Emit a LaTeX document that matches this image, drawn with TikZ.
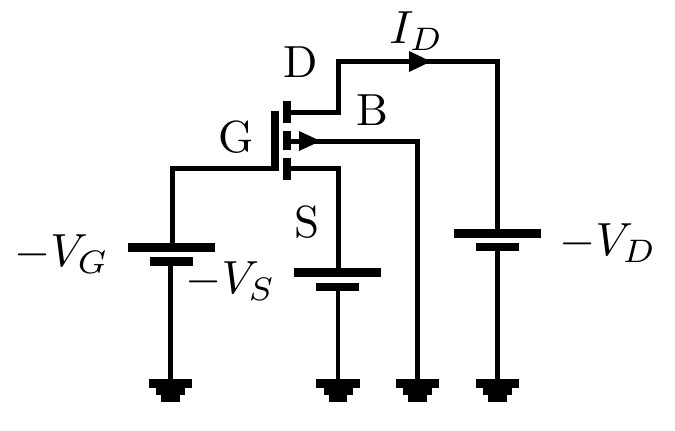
\documentclass[tikz,border=0pt]{standalone}
\usetikzlibrary{calc}
\tikzset{
  wire/.style={line width=5pt,line cap=butt,line join=miter},
  thin wire/.style={line width=4.2pt},
  bar/.style={fill=black,draw=none,rectangle,inner sep=0pt,outer sep=0pt},
  longplate/.style={bar,minimum width=87pt,minimum height=9pt},
  shortplate/.style={bar,minimum width=43pt,minimum height=8.5pt},
  channel/.style={bar,minimum width=8pt},
  tip/.style={fill=black,draw=none},
  lbl/.style={inner sep=0pt,outer sep=0pt,scale=4.5,anchor=center},
  mlbl/.style={inner sep=0pt,outer sep=0pt,scale=4.65,anchor=center},
  gnda/.style={bar,minimum width=43.5pt,minimum height=9pt},
  gndb/.style={bar,minimum width=29pt,minimum height=7pt},
  gndc/.style={bar,minimum width=18.5pt,minimum height=8pt}
}
\newcommand{\gndsym}[2]{%
  \node[gnda] (#1) at (#2,383.5) {};
  \node[gndb] (#1b) at (#2,391) {};
  \node[gndc] (#1c) at (#2,398) {};
}
\begin{document}
\begin{tikzpicture}[x=1pt,y=-1pt]
\useasboundingbox (0,0) rectangle (675,431);
% MOSFET
\node[bar,minimum width=8pt,minimum height=59pt] (gate) at (275,140.5) {};
\node[channel,minimum height=21.5pt] (drain) at (287.2,112) {};
\node[channel,minimum height=19.5pt] (body) at (287.2,140.7) {};
\node[channel,minimum height=22pt] (source) at (287.2,169) {};
% batteries
\node[longplate] (gl) at (171.5,247.5) {};
\node[shortplate] (gs) at (171.5,261.5) {};
\node[longplate] (sl) at (337.7,272.5) {};
\node[shortplate] (ss) at (337.7,287) {};
\node[longplate] (dl) at (497.5,233.5) {};
\node[shortplate] (ds) at (497.5,247) {};
% grounds
\gndsym{g1}{170.4}
\gndsym{g2}{338}
\gndsym{g3}{417.7}
\gndsym{g4}{497.4}
% corners
\coordinate (c1) at (172,168.5);
\coordinate (c2) at (338,112.8);
\coordinate (c3) at (338,61.5);
\coordinate (c4) at (497.5,61.5);
\coordinate (c5) at (338,168.5);
\coordinate (c6) at (417.7,141);
% wires
\draw[wire] (gate.east |- c1) -- (c1) -- (c1 |- gl.north);
\draw[wire] (drain.east |- c2) -- (c2) -- (c3) -- (c4) -- (dl.north -| c4);
\draw[wire] (source.east |- c5) -- (c5) -- (c5 |- sl.north);
\draw[wire] (body.east |- c6) -- (c6) -- (g3.north);
\draw[thin wire] (gs.south -| g1) -- (g1.north);
\draw[thin wire] (ss.south -| g2) -- (g2.north);
\draw[thin wire] (ds.south -| g4) -- (g4.north);
% arrow tips
\fill[tip] (299,131) -- (320.5,141) -- (299,151) -- cycle;
\fill[tip] (409,51) -- (431,61.5) -- (409,72) -- cycle;
% labels
\node[lbl] (lD) at (301,62) {D};
\node[lbl] (lG) at (236.5,137) {G};
\node[lbl] (lB) at (372,110) {B};
\node[lbl] (lS) at (307,222) {S};
\node[mlbl] (lID) at (416.5,31) {$I_D$};
\node[mlbl] (lVD) at (608,243) {$-V_D$};
\node[mlbl] (lVG) at (61.5,254) {$-V_G$};
\node[mlbl] (lVS) at (230.5,281) {$-V_S$};
\end{tikzpicture}
\end{document}
